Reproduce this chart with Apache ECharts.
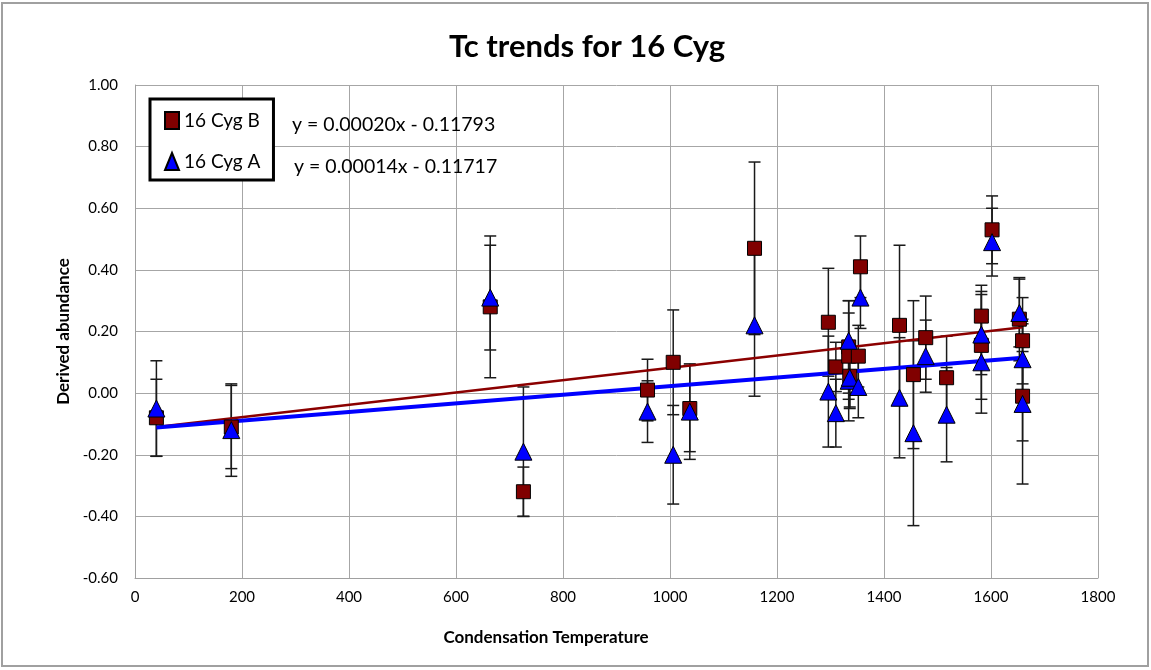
<!DOCTYPE html>
<html>
<head>
<meta charset="utf-8">
<script src="https://cdn.jsdelivr.net/npm/echarts@6/dist/echarts.min.js"></script>
<style>
  html, body { margin: 0; padding: 0; background: #fff; }
  #chart { width: 1151px; height: 670px; }
</style>
</head>
<body>
<div id="chart"></div>
<script>
// Condensation temperature of each element (K)
const tc = [40, 180, 664, 726, 958, 1006, 1037, 1158, 1296, 1310, 1334, 1334, 1336, 1352, 1356, 1429, 1455, 1478, 1517, 1582, 1582, 1602, 1653, 1659, 1659];
// 16 Cyg B abundances and 1-sigma errors
const cygB = [-0.08, -0.11, 0.28, -0.32, 0.01, 0.10, -0.05, 0.47, 0.23, 0.085, 0.15, 0.12, 0.055, 0.12, 0.41, 0.22, 0.06, 0.18, 0.05, 0.25, 0.155, 0.53, 0.24, 0.17, -0.01];
const errB = [0.125, 0.135, 0.23, 0.08, 0.10, 0.17, 0.14, 0.28, 0.175, 0.08, 0.15, 0.14, 0.10, 0.10, 0.10, 0.26, 0.24, 0.135, 0.135, 0.10, 0.175, 0.11, 0.135, 0.14, 0.145];
// 16 Cyg A abundances and 1-sigma errors
const cygA = [-0.05, -0.12, 0.31, -0.19, -0.06, -0.20, -0.06, 0.22, 0.005, -0.065, 0.17, 0.04, 0.05, 0.02, 0.31, -0.015, -0.13, 0.12, -0.07, 0.19, 0.10, 0.49, 0.26, 0.11, -0.035];
const errA = [0.155, 0.15, 0.17, 0.21, 0.10, 0.16, 0.155, 0.23, 0.18, 0.11, 0.13, 0.13, 0.10, 0.10, 0.10, 0.195, 0.30, 0.117, 0.153, 0.13, 0.165, 0.11, 0.11, 0.13, 0.26];
// Linear trend fits: y = slope * x + intercept
const seriesNames = ['16 Cyg B', '16 Cyg A'];
const slopes = [0.00020, 0.00014];
const intercepts = [-0.11793, -0.11717];
const equations = ['y = 0.00020x - 0.11793', 'y = 0.00014x - 0.11717'];

const FONT = 'Lato, "Open Sans", sans-serif';
const tcMin = Math.min(...tc), tcMax = Math.max(...tc);
const trend = (i) => [[tcMin, slopes[i] * tcMin + intercepts[i]], [tcMax, slopes[i] * tcMax + intercepts[i]]];

function errorBars(values, errs) {
  return tc.map((x, i) => [x, values[i], errs[i]]);
}

function renderErr(params, api) {
  const x = api.value(0), y = api.value(1), e = api.value(2);
  const hi = api.coord([x, y + e]);
  const lo = api.coord([x, y - e]);
  const cap = 6;
  const style = { stroke: '#1a1a1a', lineWidth: 1.5 };
  return {
    type: 'group',
    children: [
      { type: 'line', shape: { x1: hi[0], y1: hi[1], x2: lo[0], y2: lo[1] }, style },
      { type: 'line', shape: { x1: hi[0] - cap, y1: hi[1], x2: hi[0] + cap, y2: hi[1] }, style },
      { type: 'line', shape: { x1: lo[0] - cap, y1: lo[1], x2: lo[0] + cap, y2: lo[1] }, style }
    ]
  };
}

const chart = echarts.init(document.getElementById('chart'), null, { renderer: 'canvas' });
chart.setOption({
  animation: false,
  backgroundColor: '#fff',
  title: {
    text: 'Tc trends for 16 Cyg',
    left: 582, top: 26, textAlign: 'center',
    textStyle: { fontFamily: FONT, fontWeight: 'bold', fontSize: 31, color: '#000' }
  },
  grid: { left: 135, top: 85, right: 53, bottom: 92 },
  legend: {
    data: seriesNames,
    orient: 'vertical',
    left: 150, top: 99,
    padding: [12, 13, 9, 14],
    itemGap: 22,
    itemWidth: 14, itemHeight: 17,
    borderColor: '#000', borderWidth: 3,
    backgroundColor: '#fff',
    textStyle: { fontFamily: FONT, fontSize: 19, color: '#000' }
  },
  graphic: [
    { type: 'rect', shape: { x: 2, y: 3, width: 1146, height: 663 }, style: { fill: 'none', stroke: '#a0a0a0', lineWidth: 2 }, silent: true, z: -10 },
    { type: 'text', style: { x: 292, y: 125, text: equations[0], font: '19.5px ' + FONT, fill: '#000', textVerticalAlign: 'middle' }, z: 10 },
    { type: 'text', style: { x: 294, y: 167, text: equations[1], font: '19.5px ' + FONT, fill: '#000', textVerticalAlign: 'middle' }, z: 10 },
    { type: 'text', style: { x: 546, y: 638, text: 'Condensation Temperature', font: 'bold 17px ' + FONT, fill: '#000', textAlign: 'center', textVerticalAlign: 'middle' } }
  ],
  xAxis: {
    type: 'value', min: 0, max: 1800, interval: 200,
    axisLine: { onZero: false, lineStyle: { color: '#a0a0a0' } },
    axisTick: { show: false },
    axisLabel: { margin: 12, fontFamily: FONT, fontSize: 15, color: '#000', formatter: (v) => String(v) },
    splitLine: { lineStyle: { color: '#a6a6a6', width: 1 } }
  },
  yAxis: {
    type: 'value', min: -0.6, max: 1.0, interval: 0.2,
    name: 'Derived abundance', nameLocation: 'middle', nameGap: 62,
    nameTextStyle: { fontFamily: FONT, fontWeight: 'bold', fontSize: 17, color: '#000' },
    axisLine: { onZero: false, lineStyle: { color: '#a0a0a0' } },
    axisTick: { show: false },
    axisLabel: { margin: 17, fontFamily: FONT, fontSize: 15, color: '#000', formatter: (v) => v.toFixed(2) },
    splitLine: { lineStyle: { color: '#a6a6a6', width: 1 } }
  },
  series: [
    { name: 'errB', type: 'custom', renderItem: renderErr, data: errorBars(cygB, errB), encode: { x: 0, y: 1 }, z: 2, silent: true },
    { name: 'errA', type: 'custom', renderItem: renderErr, data: errorBars(cygA, errA), encode: { x: 0, y: 1 }, z: 2, silent: true },
    { name: 'trendB', type: 'line', data: trend(0), symbol: 'none', lineStyle: { color: '#8b0000', width: 2.5 }, z: 3, silent: true },
    { name: 'trendA', type: 'line', data: trend(1), symbol: 'none', lineStyle: { color: '#0000ff', width: 4 }, z: 3, silent: true },
    {
      name: seriesNames[0], type: 'scatter', symbol: 'rect', symbolSize: 14,
      data: tc.map((x, i) => [x, cygB[i]]),
      itemStyle: { color: '#800000', borderColor: '#000', borderWidth: 1, opacity: 1 }, z: 4
    },
    {
      name: seriesNames[1], type: 'scatter', symbol: 'triangle', symbolSize: 17,
      data: tc.map((x, i) => [x, cygA[i]]),
      itemStyle: { color: '#0000ff', borderColor: '#000', borderWidth: 1, opacity: 1 }, z: 5
    }
  ]
});
</script>
</body>
</html>
